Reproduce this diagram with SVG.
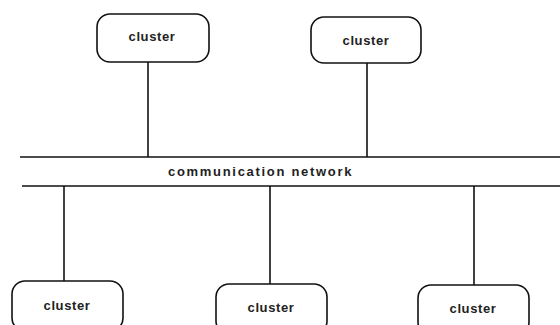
<svg xmlns="http://www.w3.org/2000/svg" width="560" height="325" viewBox="0 0 560 325">
<style>
.box{fill:#fff;stroke:#111;stroke-width:1.6}
.ln{stroke:#111;stroke-width:1.6;fill:none}
.t{font-family:"Liberation Sans",Arial,sans-serif;font-weight:bold;font-size:13px;fill:#222;text-anchor:middle;letter-spacing:0.6px}
</style>
<rect width="560" height="325" fill="#fff"/>
<g id="connectors">
<line class="ln" x1="20" y1="157" x2="560" y2="157"/>
<line class="ln" x1="22" y1="186" x2="560" y2="186"/>
<line class="ln" x1="148" y1="62" x2="148" y2="157"/>
<line class="ln" x1="367" y1="63" x2="367" y2="157"/>
<line class="ln" x1="64" y1="186" x2="64" y2="281"/>
<line class="ln" x1="270" y1="186" x2="270" y2="284"/>
<line class="ln" x1="474" y1="186" x2="474" y2="285"/>
</g>
<g id="network">
<text class="t" x="260" y="176" textLength="184" lengthAdjust="spacing">communication  network</text>
</g>
<g id="cluster1">
<rect class="box" x="97" y="14" width="112" height="48" rx="13"/>
<text class="t" x="152" y="41">cluster</text>
</g>
<g id="cluster2">
<rect class="box" x="311" y="17" width="110" height="46" rx="13"/>
<text class="t" x="366" y="45">cluster</text>
</g>
<g id="cluster3">
<rect class="box" x="12" y="281" width="111" height="50" rx="13"/>
<text class="t" x="67" y="310">cluster</text>
</g>
<g id="cluster4">
<rect class="box" x="216" y="284" width="111" height="50" rx="13"/>
<text class="t" x="271" y="312">cluster</text>
</g>
<g id="cluster5">
<rect class="box" x="418" y="285" width="111" height="50" rx="13"/>
<text class="t" x="473" y="313">cluster</text>
</g>
</svg>
